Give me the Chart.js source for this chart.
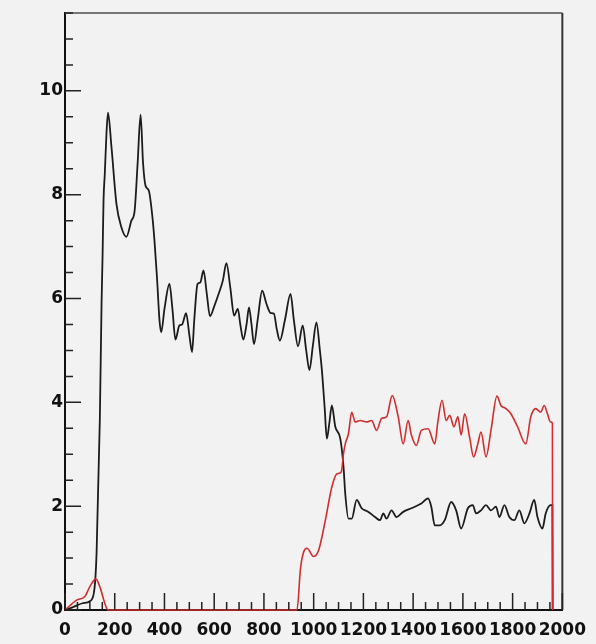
<!DOCTYPE html>
<html>
<head>
<meta charset="utf-8">
<script src="https://cdn.jsdelivr.net/npm/chart.js@4/dist/chart.umd.min.js"></script>
<style>
  html, body { margin: 0; padding: 0; background: #f2f2f2; }
  canvas { display: block; }
</style>
</head>
<body>
<canvas id="chart" width="596" height="644"></canvas>
<script>
// black curve
const blackX = [0, 30, 70, 100, 115, 122, 127, 140, 147, 151, 155, 160, 167, 173, 187, 207, 227, 247, 267, 280, 292, 304, 314, 324, 337, 353, 360, 370, 380, 387, 400, 420, 432, 444, 460, 471, 487, 500, 511, 520, 533, 544, 557, 570, 583, 600, 620, 635, 649, 665, 680, 695, 705, 717, 730, 740, 750, 760, 775, 793, 810, 827, 840, 852, 864, 885, 907, 920, 937, 956, 970, 983, 997, 1011, 1025, 1033, 1044, 1053, 1063, 1073, 1087, 1107, 1120, 1127, 1140, 1153, 1173, 1193, 1220, 1247, 1267, 1280, 1293, 1313, 1333, 1360, 1393, 1433, 1460, 1473, 1487, 1507, 1527, 1553, 1573, 1593, 1620, 1640, 1653, 1673, 1693, 1713, 1733, 1747, 1767, 1787, 1807, 1827, 1847, 1867, 1887, 1900, 1920, 1933, 1953, 1960, 1961];
const blackY = [0, 0.05, 0.13, 0.17, 0.3, 0.6, 1.1, 3.65, 5.9, 6.8, 7.9, 8.4, 9.2, 9.58, 8.91, 7.82, 7.37, 7.19, 7.5, 7.69, 8.6, 9.54, 8.6, 8.17, 8.08, 7.5, 7.1, 6.4, 5.58, 5.35, 5.8, 6.28, 5.8, 5.21, 5.48, 5.5, 5.72, 5.3, 4.97, 5.6, 6.28, 6.31, 6.54, 6.1, 5.66, 5.85, 6.12, 6.35, 6.68, 6.2, 5.67, 5.8, 5.5, 5.21, 5.5, 5.83, 5.5, 5.12, 5.6, 6.15, 5.9, 5.72, 5.71, 5.4, 5.19, 5.6, 6.09, 5.6, 5.08, 5.48, 5.0, 4.62, 5.1, 5.54, 5.0, 4.62, 3.91, 3.3, 3.6, 3.94, 3.53, 3.3, 2.76, 2.24, 1.76, 1.76, 2.12, 1.96, 1.89, 1.79, 1.73, 1.86, 1.76, 1.92, 1.79, 1.89, 1.96, 2.05, 2.15, 1.99, 1.63, 1.63, 1.73, 2.08, 1.92, 1.57, 1.96, 2.02, 1.86, 1.92, 2.02, 1.92, 1.99, 1.79, 2.02, 1.79, 1.73, 1.92, 1.67, 1.85, 2.12, 1.79, 1.57, 1.86, 2.02, 2.02, 0];

// red curve
const redX = [0, 47, 80, 100, 124, 140, 160, 173, 933, 947, 960, 973, 1000, 1020, 1047, 1073, 1093, 1111, 1120, 1127, 1140, 1153, 1167, 1187, 1213, 1233, 1253, 1273, 1293, 1316, 1340, 1360, 1380, 1393, 1413, 1433, 1460, 1487, 1500, 1516, 1533, 1547, 1564, 1580, 1593, 1607, 1627, 1643, 1660, 1673, 1693, 1713, 1737, 1753, 1773, 1793, 1820, 1853, 1873, 1893, 1913, 1927, 1940, 1953, 1960, 1961];
const redY = [0, 0.19, 0.26, 0.45, 0.6, 0.45, 0.13, 0, 0, 0.8, 1.12, 1.19, 1.03, 1.15, 1.73, 2.37, 2.62, 2.66, 3.01, 3.2, 3.4, 3.81, 3.62, 3.65, 3.62, 3.65, 3.46, 3.69, 3.72, 4.13, 3.72, 3.2, 3.65, 3.37, 3.17, 3.46, 3.49, 3.2, 3.65, 4.04, 3.65, 3.75, 3.53, 3.72, 3.37, 3.78, 3.33, 2.95, 3.2, 3.43, 2.95, 3.46, 4.12, 3.94, 3.88, 3.78, 3.53, 3.2, 3.72, 3.88, 3.81, 3.94, 3.78, 3.62, 3.6, 0];

const xTicks = [0, 200, 400, 600, 800, 1000, 1200, 1400, 1600, 1800, 2000];
const yTicks = [0, 2, 4, 6, 8, 10];

const toPts = (xs, ys) => xs.map((x, i) => ({ x, y: ys[i] }));

// ROOT-like frame with ticks pointing into the plot
const framePlugin = {
  id: "frame",
  beforeDraw(chart) {
    const c = chart.ctx;
    c.save();
    c.fillStyle = "#f2f2f2";
    c.fillRect(0, 0, chart.width, chart.height);
    c.restore();
  },
  afterDraw(chart) {
    const { ctx: c, chartArea: a, scales } = chart;
    c.save();
    c.strokeStyle = "#777";
    c.lineWidth = 2;
    c.beginPath();
    c.moveTo(a.left, a.top); c.lineTo(a.right, a.top);
    c.stroke();
    c.strokeStyle = "#333";
    c.beginPath();
    c.moveTo(a.right, a.top); c.lineTo(a.right, a.bottom);
    c.stroke();

    c.strokeStyle = "#222";
    c.lineWidth = 1.5;
    c.beginPath();
    for (let v = 0; v <= 2000; v += 50) {
      const px = scales.x.getPixelForValue(v);
      const len = v % 200 === 0 ? 17 : 8;
      c.moveTo(px, a.bottom); c.lineTo(px, a.bottom - len);
    }
    for (let v = 0; v <= 11.5; v += 0.5) {
      const py = scales.y.getPixelForValue(v);
      const len = v % 2 === 0 ? 16 : 8;
      c.moveTo(a.left, py); c.lineTo(a.left + len, py);
    }
    c.stroke();
    c.restore();
  }
};

const tickFont = { family: "DejaVu Sans", size: 17, weight: "bold" };

new Chart(document.getElementById("chart"), {
  type: "scatter",
  data: {
    datasets: [
      {
        data: toPts(redX, redY), showLine: true, pointRadius: 0, clip: 4,
        borderColor: "#cf2e2e", borderWidth: 1.6, cubicInterpolationMode: "monotone"
      },
      {
        data: toPts(blackX, blackY), showLine: true, pointRadius: 0,
        borderColor: "#1c1c1c", borderWidth: 1.8, cubicInterpolationMode: "monotone"
      }
    ]
  },
  options: {
    responsive: false,
    animation: false,
    layout: { padding: { left: 0, top: 13, right: 32, bottom: 0 } },
    plugins: { legend: { display: false }, tooltip: { enabled: false } },
    scales: {
      x: {
        type: "linear", min: 0, max: 2000,
        afterBuildTicks: s => { s.ticks = xTicks.map(v => ({ value: v })); },
        afterFit: s => { s.height = 34; },
        grid: { display: false, drawTicks: false },
        border: { display: true, color: "#111", width: 2 },
        ticks: { autoSkip: false, maxRotation: 0, padding: 10, color: "#111", font: tickFont,
                 callback: v => String(v) }
      },
      y: {
        type: "linear", min: 0, max: 11.5,
        afterBuildTicks: s => { s.ticks = yTicks.map(v => ({ value: v })); },
        afterFit: s => { s.width = 65; },
        grid: { display: false, drawTicks: false },
        border: { display: true, color: "#111", width: 2 },
        ticks: { padding: 2, color: "#111", font: tickFont, callback: v => String(v) }
      }
    }
  },
  plugins: [framePlugin]
});
</script>
</body>
</html>
